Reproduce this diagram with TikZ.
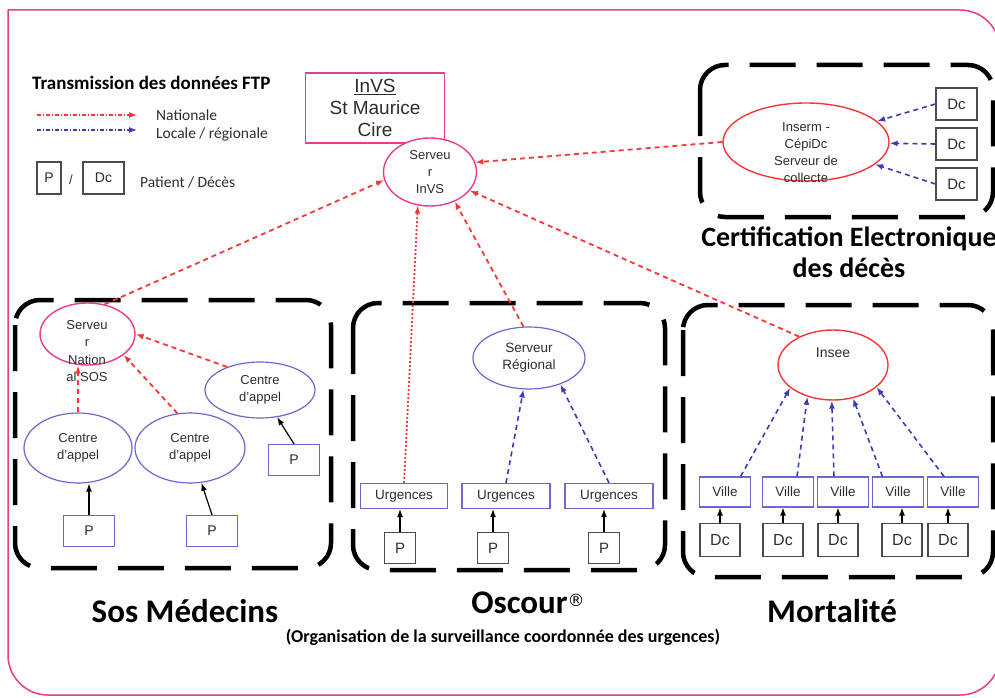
\documentclass[tikz,border=0pt]{standalone}
\usepackage{fontspec}
\setmainfont{Liberation Sans}
\newfontfamily\capfont{Carlito}
\newfontfamily\symfont{DejaVu Sans}
\usetikzlibrary{shapes.geometric,arrows.meta,positioning}
\definecolor{pinkline}{RGB}{232,60,140}
\definecolor{redline}{RGB}{245,55,55}
\definecolor{locblue}{RGB}{60,60,185}
\definecolor{nodeblue}{RGB}{105,105,205}
\definecolor{boxgray}{RGB}{75,75,75}
\definecolor{textgray}{RGB}{45,45,45}

\begin{document}
\begin{tikzpicture}[x=1pt, y=-1pt,
    every node/.style={inner sep=1pt, align=center, text=textgray, font=\fontsize{13}{17}\selectfont},
    srvinv/.style={ellipse, draw=pinkline, line width=1.4pt, fill=white},
    srvred/.style={ellipse, draw=redline, line width=1.4pt, fill=white},
    ctre/.style={ellipse, draw=nodeblue, line width=1.2pt},
    site/.style={rectangle, draw=nodeblue, line width=1.2pt, minimum height=25pt, font=\fontsize{13.5}{15}\selectfont},
    pat/.style={rectangle, draw=nodeblue, line width=1.2pt, minimum width=51pt, minimum height=31pt, font=\fontsize{14}{16}\selectfont},
    src/.style={rectangle, draw=boxgray, line width=1.2pt, font=\fontsize{15}{16}\selectfont},
    zone/.style={draw=black, line width=4.5pt, dash pattern=on 46pt off 21pt, rounded corners=25pt},
    nat/.style={->, draw=redline, line width=1.8pt, dash pattern=on 5pt off 4pt},
    loc/.style={->, draw=locblue, line width=1.6pt, dash pattern=on 5pt off 4pt},
    feed/.style={->, draw=black, line width=1.2pt},
    legtxt/.style={font=\capfont\fontsize{15.5}{18}\selectfont},
    caption/.style={text=black, inner sep=0pt, font=\capfont\bfseries\fontsize{#1}{31}\selectfont},
    >={Latex[length=8pt,width=6pt]}
]
\useasboundingbox (0,0) rectangle (995,698);
\clip (0,0) rectangle (995,698);
\draw[pinkline, line width=1.5pt, rounded corners=40pt] (8,10) -- (1000,10) -- (1000,695) -- (8,695) -- (8,10);

% legende
\node[font=\capfont\bfseries\fontsize{19}{22}\selectfont, text=black, anchor=west] (legtitle) at (31,83) {Transmission des données FTP};
\coordinate (natA) at (37,115); \coordinate (natB) at (137,115);
\coordinate (locA) at (37,130); \coordinate (locB) at (137,130);
\draw[->, redline, line width=1.2pt, dash pattern=on 4pt off 2pt on 1pt off 2pt] (natA) -- (natB);
\draw[->, locblue, line width=1.2pt, dash pattern=on 4pt off 2pt on 1pt off 2pt] (locA) -- (locB);
\node[legtxt, anchor=west] (natlbl) at (155,115) {Nationale};
\node[legtxt, anchor=west] (loclbl) at (155,134) {Locale / régionale};
\node[src, minimum width=24pt, minimum height=32pt, font=\fontsize{14}{16}\selectfont] (legp) at (49,178) {P};
\node (legslash) at (71,180) {/};
\node[src, minimum width=41pt, minimum height=32pt, font=\fontsize{14}{16}\selectfont] (legdc) at (103.5,178) {Dc};
\node[legtxt, anchor=west] (patlbl) at (139,182) {Patient / Décès};

% InVS
\node[draw=pinkline, line width=1.5pt, minimum width=139pt, minimum height=70pt, font=\fontsize{19}{22}\selectfont] (invs) at (375,108) {\underline{InVS}\\St Maurice\\Cire};
\node[srvinv, minimum width=93pt, minimum height=68pt] (srvinvs) at (430,172) {Serveu\\r\\InVS};

% certification electronique
\draw[zone] (700,65) rectangle (993,217);
\node[srvred, minimum width=166pt, minimum height=78pt] (inserm) at (806,142) {};
\node (insermtxt) at (806,153) {Inserm -\\CépiDc\\Serveur de\\collecte};
\foreach \i/\y in {1/104,2/144,3/184}
    \node[src, minimum width=41pt, minimum height=32pt] (cdc\i) at (956.5,\y) {Dc};
\foreach \i in {1,2,3}
    \draw[loc] (cdc\i.west) -- (inserm);
\node[caption=28] (certlbl) at (849,252) {Certification Electronique\\des décès};

% SOS medecins
\draw[zone] (15,300) rectangle (331,568);
\node[srvinv, minimum width=95pt, minimum height=62pt] (srvsos) at (87.5,334) {};
\node[font=\fontsize{13}{17.5}\selectfont] (srvsostxt) at (87,351) {Serveu\\r\\Nation\\al SOS};
\node[ctre, minimum width=108pt, minimum height=70pt] (ctr1) at (78,448) {Centre\\d'appel};
\node[ctre, minimum width=110pt, minimum height=70pt] (ctr2) at (190,448) {Centre\\d'appel};
\node[ctre, minimum width=110pt, minimum height=56pt] (ctr3) at (260,390) {Centre\\d'appel};
\node[pat] (sp1) at (89,531) {P};
\node[pat] (sp2) at (212,531) {P};
\node[pat] (sp3) at (294,460) {P};
\draw[feed] (sp1.north) -- (sp1.north |- ctr1.south);
\draw[feed] (sp2.north) -- (ctr2);
\draw[feed] (sp3.north) -- (ctr3);
\draw[nat] (ctr1.north) -- (ctr1.north |- srvsos.south);
\draw[nat] (ctr2.110) -- (srvsos.-30);
\draw[nat] (ctr3.145) -- (srvsos.east);

% Oscour
\draw[zone] (353,303) rectangle (665,570);
\node[ctre, minimum width=112pt, minimum height=62pt, font=\fontsize{13.5}{17}\selectfont] (srvreg) at (529,358) {Serveur\\Régional};
\node[site, minimum width=87pt] (urg1) at (404,496) {Urgences};
\node[site, minimum width=88pt] (urg2) at (506,496) {Urgences};
\node[site, minimum width=88pt] (urg3) at (609,496) {Urgences};
\foreach \i/\x in {1/400,2/493,3/604}
    \node[src, minimum width=31pt, minimum height=31pt] (op\i) at (\x,548) {P};
\foreach \i in {1,2,3}
    \draw[feed] (op\i.north) -- (op\i.north |- urg\i.south);
\draw[loc] (urg2.north) -- (srvreg.260);
\draw[loc] (urg3.north) -- (srvreg.-40);

% Mortalite
\draw[zone] (683,305) rectangle (993,577);
\node[srvred, minimum width=110pt, minimum height=70pt] (insee) at (833,365) {};
\node[font=\fontsize{14}{16}\selectfont] (inseetxt) at (833,353) {Insee};
\foreach \i/\x in {1/725,2/788,3/843,4/898,5/953}
    \node[site, minimum width=51pt, minimum height=30pt] (vil\i) at (\x,492) {Ville};
\foreach \i/\x in {1/720,2/783,3/838,4/902,5/948}
    \node[src, minimum width=40pt, minimum height=33pt, font=\fontsize{16}{18}\selectfont] (mdc\i) at (\x,540) {Dc};
\foreach \i in {1,...,5}
    \draw[feed] (mdc\i.north) -- (mdc\i.north |- vil\i.south);
\draw[loc] (vil1.45) -- (insee.208);
\draw[loc] (vil2.60) -- (insee.231);
\draw[loc] (vil3.120) -- (insee.268);
\draw[loc] (vil4.135) -- (insee.301);
\draw[loc] (vil5.120) -- (insee.333);

% flux nationaux vers le serveur InVS
\draw[nat] (srvsos.60) -- (srvinvs.190);
\draw[nat, dash pattern=on 2pt off 2pt] (urg1.north) -- (srvinvs.250);
\draw[nat] (srvreg.100) -- (srvinvs.-50);
\draw[nat] (insee.140) -- (srvinvs.-25);
\draw[nat] (inserm.west) -- (srvinvs.12);

% titres
\node[caption=33, anchor=base] (soslbl) at (185,622) {Sos Médecins};
\node[caption=33, anchor=base] (osclbl) at (528,613) {Oscour\raisebox{7pt}{\symfont\fontsize{17}{17}\selectfont\mdseries ®}};
\node[caption=18, anchor=base] (orglbl) at (503,642) {(Organisation de la surveillance coordonnée des urgences)};
\node[caption=33, anchor=base] (mortlbl) at (832,622) {Mortalité};
\end{tikzpicture}
\end{document}
